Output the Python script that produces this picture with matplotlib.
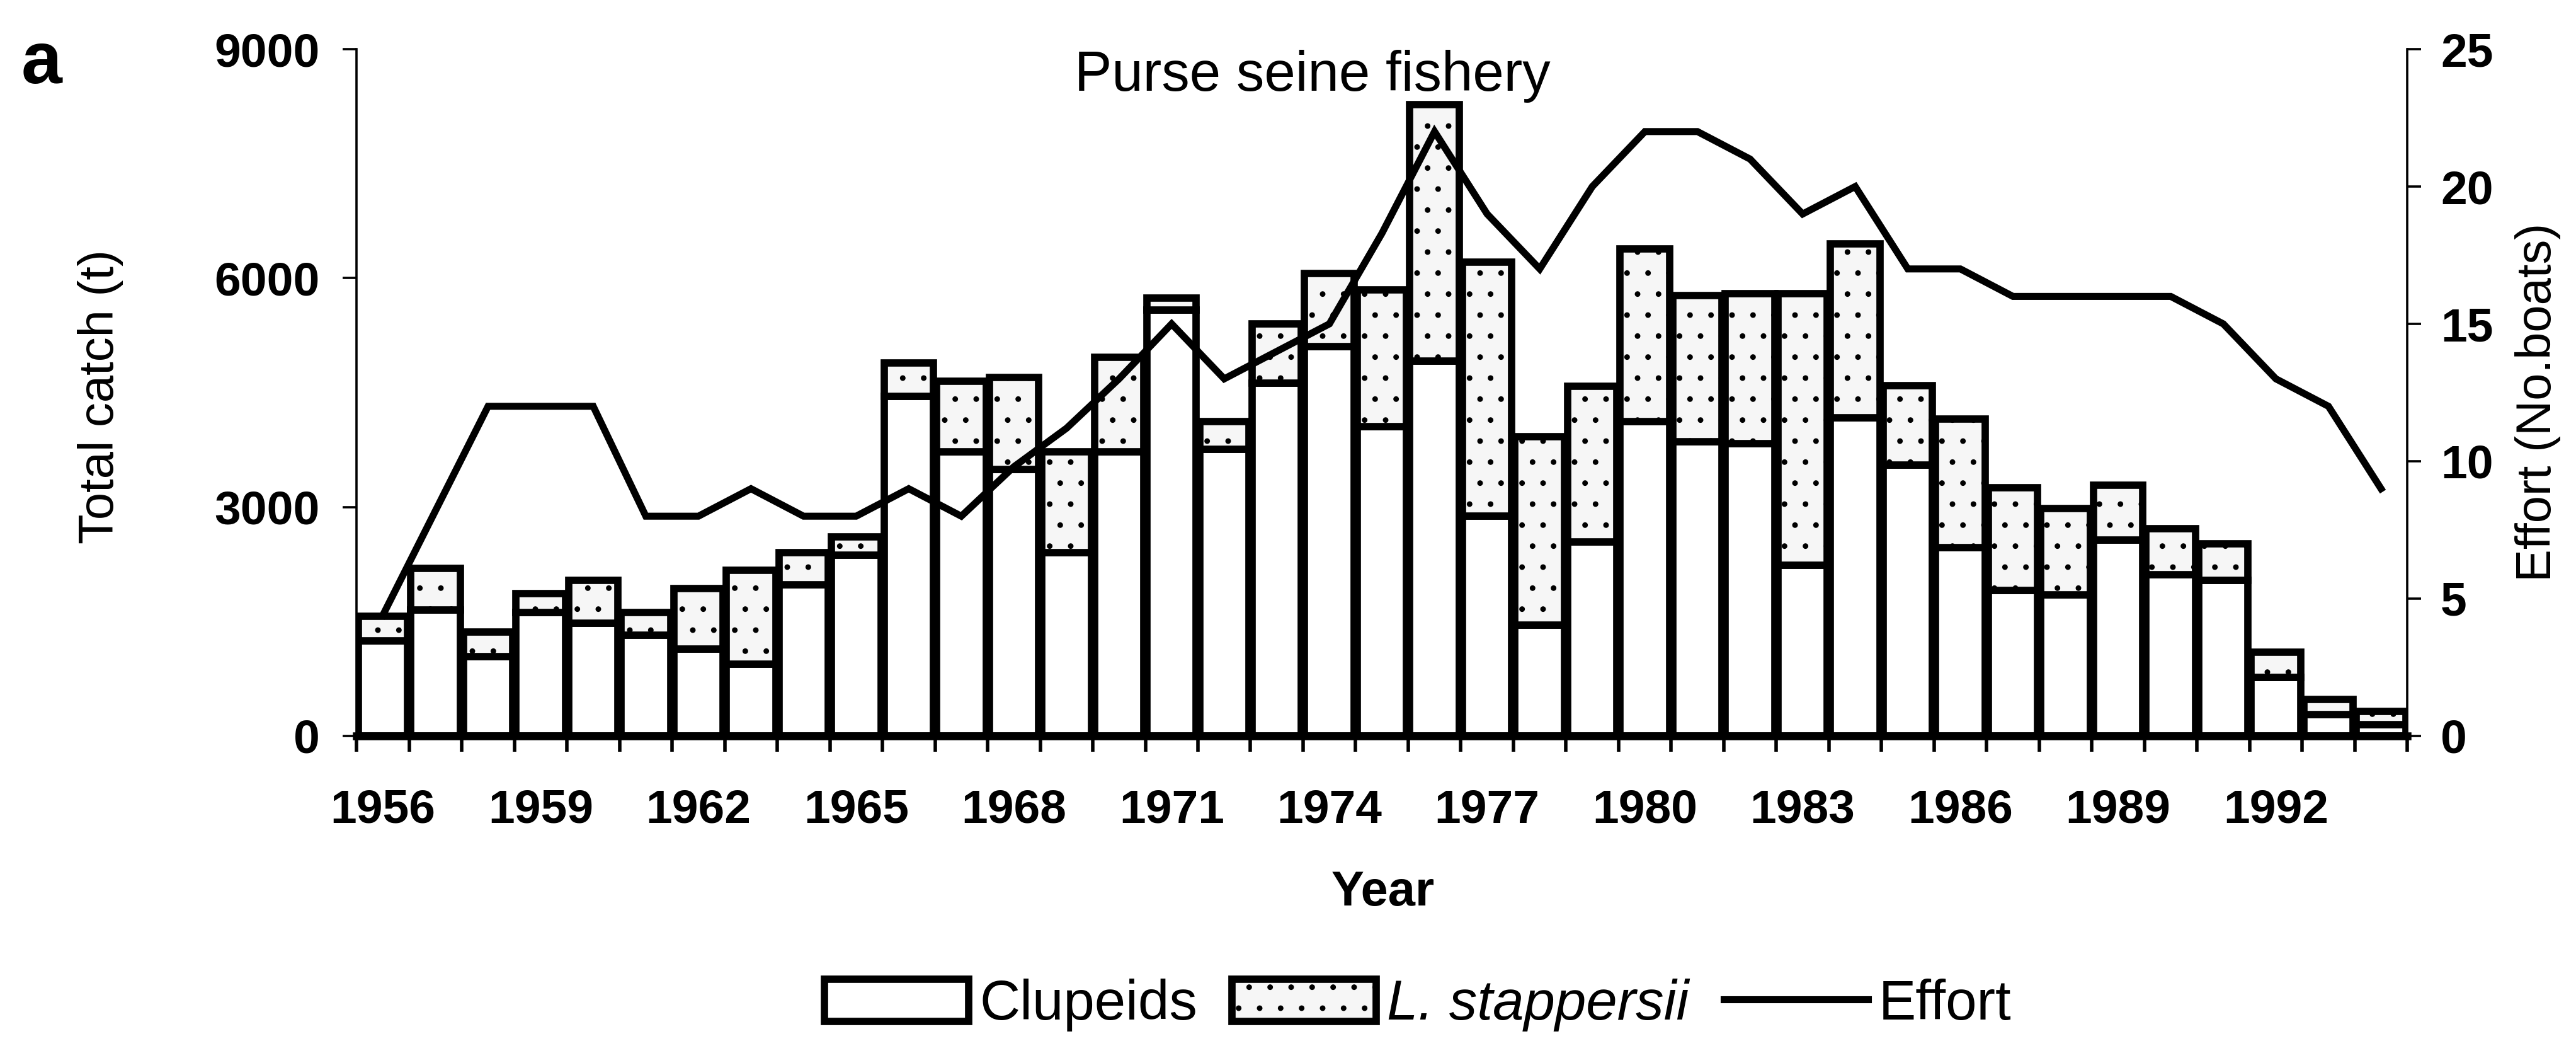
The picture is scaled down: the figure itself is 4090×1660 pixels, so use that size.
import numpy as np
import matplotlib
matplotlib.use("Agg")
import matplotlib.pyplot as plt

plt.rcParams['font.family'] = ['Liberation Sans', 'DejaVu Sans']
plt.rcParams['hatch.linewidth'] = 0.8

# data
years = list(range(1956, 1995))
clupeids = [1250, 1650, 1040, 1620, 1480, 1320, 1140, 940, 1980, 2370,
            4450, 3720, 3490, 2400, 3720, 5580, 3760, 4620, 5100, 4050,
            4910, 2880, 1450, 2540, 4120, 3860, 3830, 2240, 4170, 3550,
            2470, 1910, 1850, 2570, 2110, 2040, 770, 280, 150]
stappersii = [320, 550, 320, 250, 560, 300, 790, 1230, 420, 240,
              440, 930, 1210, 1320, 1240, 160, 360, 780, 960, 1800,
              3360, 3330, 2470, 2040, 2260, 1910, 1970, 3560, 2280, 1040,
              1680, 1340, 1130, 720, 610, 480, 330, 200, 170]
effort = [4.4, 8.2, 12, 12, 12, 8, 8, 9, 8, 8,
          9, 8, 9.8, 11.2, 13, 15, 13, 14, 15, 18.3,
          22, 19, 17, 20, 22, 22, 21, 19, 20, 17,
          17, 16, 16, 16, 16, 15, 13, 12, 9]
year_labels = [str(y) for y in years[::3]]

x = np.arange(len(years))

fig = plt.figure(figsize=(20.455, 8.3), dpi=200)
ax = fig.add_axes([0.1384, 0.2964, 0.7959, 0.6566])

edge_lw = 4.2
ax.bar(x, clupeids, width=0.94, color='white', edgecolor='black',
       linewidth=edge_lw, label='Clupeids', zorder=2)
ax.bar(x, stappersii, width=0.94, bottom=clupeids, color='#f6f6f6',
       edgecolor='black', linewidth=edge_lw, hatch='.',
       label='L. stappersii', zorder=2)

ax.set_xlim(-0.5, len(years) - 0.5)
ax.set_ylim(0, 9000)
ax.set_yticks([0, 3000, 6000, 9000])
ax.set_xticks(x[::3])
ax.set_xticklabels(year_labels)
ax.set_xticks(np.arange(-0.5, len(years), 1), minor=True)
ax.tick_params(axis='x', which='major', length=0, pad=30, labelsize=27)
ax.tick_params(axis='x', which='minor', length=9, width=2, direction='out')
ax.tick_params(axis='y', length=8, width=1.3, pad=13, labelsize=27)
for t in ax.get_xticklabels() + ax.get_yticklabels():
    t.set_fontweight('bold')

ax.spines['top'].set_visible(False)
ax.spines['right'].set_visible(False)
ax.spines['left'].set_linewidth(1.3)
ax.spines['bottom'].set_linewidth(4.5)
ax.spines['bottom'].set_zorder(3)

# effort on the right axis
ax2 = ax.twinx()
ax2.plot(x, effort, color='black', linewidth=4, solid_joinstyle='miter',
         label='Effort', zorder=4)
ax2.set_ylim(0, 25)
ax2.set_yticks([0, 5, 10, 15, 20, 25])
ax2.tick_params(axis='y', length=8, width=1.3, pad=11, labelsize=27)
for t in ax2.get_yticklabels():
    t.set_fontweight('bold')
for s in ['top', 'left', 'bottom']:
    ax2.spines[s].set_visible(False)
ax2.spines['right'].set_linewidth(1.3)

# labels
fig.text(0.0391, 0.6205, 'Total catch (t)', rotation=90, ha='center',
         va='center', fontsize=28)
fig.text(0.985, 0.6157, 'Effort (No.boats)', rotation=90, ha='center',
         va='center', fontsize=28)
fig.text(0.5368, 0.1464, 'Year', ha='center', va='center', fontsize=28,
         fontweight='bold')
fig.text(0.5094, 0.9133, 'Purse seine fishery', ha='center',
         va='baseline', fontsize=32)
fig.text(0.0083, 0.9205, 'a', ha='left', va='baseline', fontsize=42,
         fontweight='bold')

# legend
h1, l1 = ax.get_legend_handles_labels()
h2, l2 = ax2.get_legend_handles_labels()
leg = fig.legend(h1 + h2, l1 + l2, loc='center', bbox_to_anchor=(0.5503, 0.039),
                 ncol=3, frameon=False, fontsize=32, handlelength=2.58,
                 handleheight=0.79, handletextpad=0.19, columnspacing=0.62,
                 borderpad=0)
leg.get_texts()[1].set_style('italic')

fig.savefig('out.png', dpi=200)
